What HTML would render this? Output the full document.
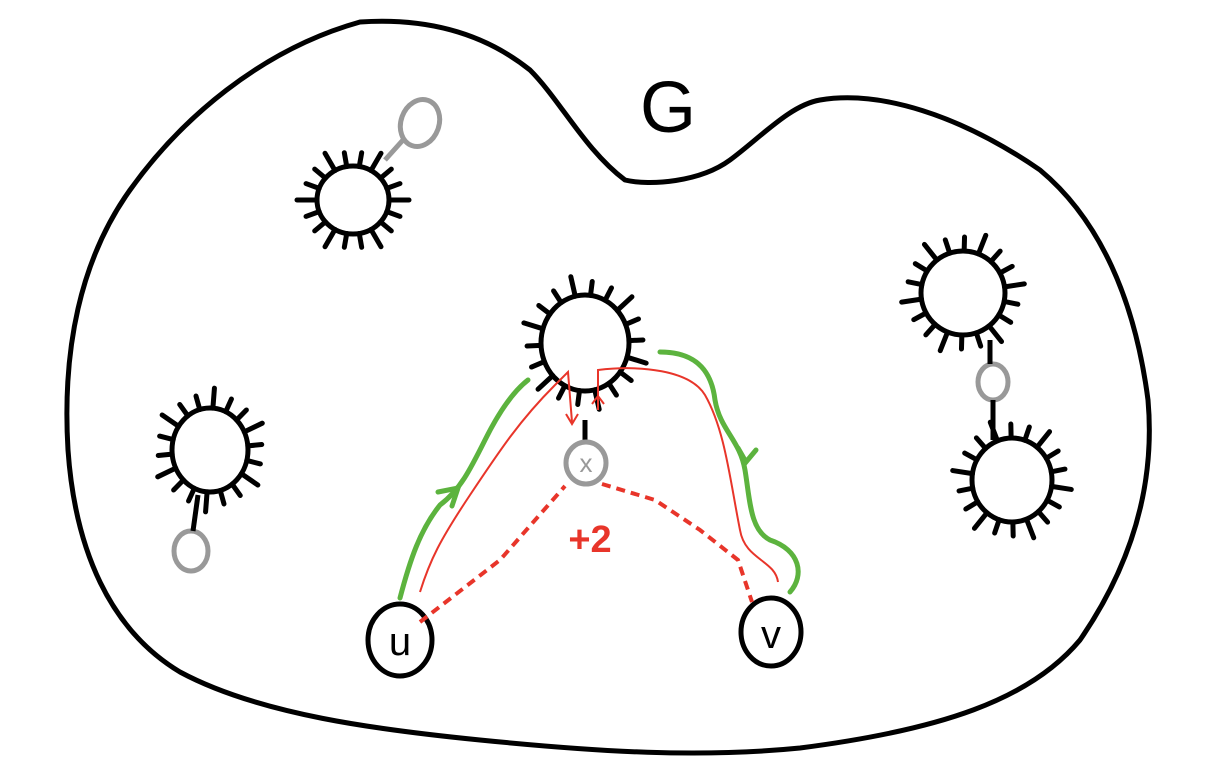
<!DOCTYPE html>
<html><head><meta charset="utf-8"><style>
html,body{margin:0;padding:0;background:#fff}
svg{display:block}
</style></head><body>
<svg id="s" width="1220" height="783" viewBox="0 0 1220 783" xmlns="http://www.w3.org/2000/svg">
<path fill="none" stroke="#000" stroke-width="5" stroke-linejoin="round" d="M360,22 C420,18 480,30 530,70 C560,100 585,150 625,180 C650,186 700,182 730,160 C760,138 790,105 820,100 C880,90 960,115 1040,170 C1100,220 1135,300 1148,400 C1155,480 1135,560 1080,640 C1030,700 940,730 800,748 C700,758 600,752 480,740 C380,730 260,715 180,672 C110,630 75,550 68,450 C62,350 80,260 130,190 C180,120 260,50 360,22 Z"/>
<text x="640" y="132" font-family="Liberation Sans, sans-serif" font-size="72" fill="#000">G</text>
<g id="clusters" stroke="#000" stroke-width="5" stroke-linecap="round" fill="none"></g>
<g fill="#fff" stroke="#999" stroke-width="5">
<ellipse cx="420" cy="123" rx="19" ry="24" transform="rotate(20 420 123)"/>
<line x1="403" y1="140" x2="385" y2="160"/>
<ellipse cx="191" cy="551" rx="17" ry="20"/>
<line x1="193" y1="531" x2="198" y2="495" stroke="#000"/>
<ellipse cx="993" cy="382" rx="15" ry="18"/>
<line x1="993" y1="400" x2="993" y2="440" stroke="#000"/>
<line x1="990" y1="364" x2="990" y2="340" stroke="#000"/>
<line x1="585" y1="420" x2="585" y2="442" stroke="#000"/>
<ellipse cx="586" cy="463" rx="20" ry="21"/>
</g>
<text x="586" y="472" text-anchor="middle" font-family="Liberation Sans, sans-serif" font-size="26" fill="#999">x</text>
<g fill="none" stroke="#000" stroke-width="5">
<ellipse cx="400" cy="640" rx="32" ry="36"/>
<ellipse cx="771" cy="632" rx="30" ry="34"/>
</g>
<text x="400" y="655" text-anchor="middle" font-family="Liberation Sans, sans-serif" font-size="40" fill="#000">u</text>
<text x="771" y="648" text-anchor="middle" font-family="Liberation Sans, sans-serif" font-size="40" fill="#000">v</text>
<g fill="none" stroke="#e8352a" stroke-width="4" stroke-dasharray="9,6">
<path d="M420,622 L500,560 L565,486"/>
<path d="M602,484 L655,500 L700,530 L738,560 L752,602"/>
</g>
<text x="590" y="552" text-anchor="middle" font-family="Liberation Sans, sans-serif" font-weight="bold" font-size="38" fill="#e8352a">+2</text>
<g fill="none" stroke="#e8352a" stroke-width="2">
<path d="M420,592 C430,560 440,540 470,495 C500,450 520,420 555,385 L568,372 L572,422"/>
<path d="M566,414 L572,424 L578,414"/>
<path d="M598,410 L598,370 C640,365 690,370 705,395 C725,430 730,480 740,530 C745,560 775,560 778,582"/>
<path d="M592,404 L598,396 L604,404"/>
</g>
<g fill="none" stroke="#5cb33e" stroke-width="5" stroke-linecap="round">
<path d="M400,598 C410,560 420,530 440,505 C460,490 470,470 485,440 C500,410 515,390 528,380"/>
<path d="M438,492 L458,488 L452,506"/>
<path d="M660,352 C700,352 712,375 715,400 C720,430 740,440 745,470 C750,500 750,530 770,540 C800,550 805,575 790,592"/>
<path d="M738,448 L746,462 L756,450"/>
</g>
</svg>
<script>
const clusterCenters=[[353,200,36,34],[585,343,44,48],[210,450,38,42],[963,293,42,42],[1012,480,40,42]];
const g=document.getElementById('clusters');
const NS='http://www.w3.org/2000/svg';
clusterCenters.forEach((c,i)=>{
  const grp=document.createElementNS(NS,'g');
  
  
  const e=document.createElementNS(NS,'ellipse');
  e.setAttribute('cx',c[0]);e.setAttribute('cy',c[1]);e.setAttribute('rx',c[2]);e.setAttribute('ry',c[3]);
  grp.appendChild(e);
  const n=18;
  for(let k=0;k<n;k++){
    const a=(k/n)*2*Math.PI+i*0.3;
    const l=(k%3===0)?20:14;
    const l1=document.createElementNS(NS,'line');
    l1.setAttribute('x1',c[0]+Math.cos(a)*c[2]);l1.setAttribute('y1',c[1]+Math.sin(a)*c[3]);
    l1.setAttribute('x2',c[0]+Math.cos(a)*(c[2]+l));l1.setAttribute('y2',c[1]+Math.sin(a)*(c[3]+l));
    grp.appendChild(l1);
  }
  g.appendChild(grp);
});
</script>
</body></html>
